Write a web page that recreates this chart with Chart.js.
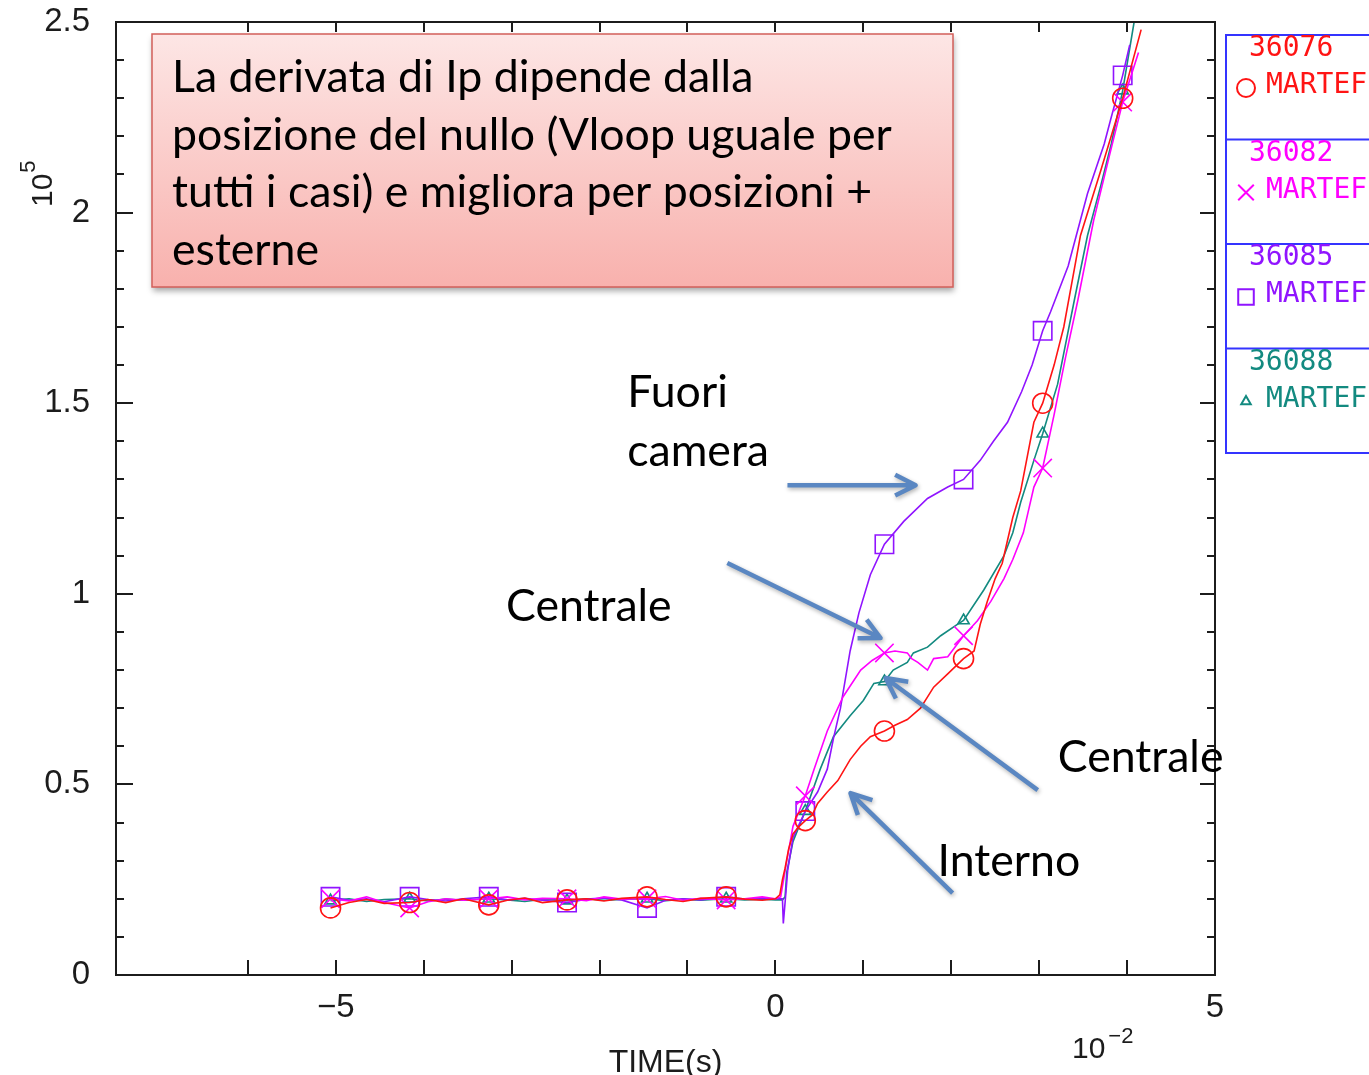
<!DOCTYPE html>
<html lang="it">
<head>
<meta charset="utf-8">
<title>Derivata di Ip – MARTEF</title>
<script src="https://cdn.jsdelivr.net/npm/chart.js@4.4.1/dist/chart.umd.min.js"></script>
<style>
  html, body { margin: 0; padding: 0; background: #ffffff; }
  #wrap { position: relative; width: 1369px; height: 1075px; overflow: hidden; }
</style>
</head>
<body>
<div id="wrap"><canvas id="c" width="1369" height="1075"></canvas></div>
<script>
// Time in units of 1e-2 s, signal in units of 1e5.
const SHOTS = ['36076', '36082', '36085', '36088'];
const CODE_NAME = 'MARTEF';

// Samples carrying a symbol on every trace
const MARKER_T = [-5.06, -4.16, -3.26, -2.37, -1.46, -0.56, 0.34, 1.24, 2.14, 3.04, 3.95];

const T_36076 = [-5.06,-4.85,-4.65,-4.45,-4.16,-3.95,-3.75,-3.55,-3.26,-3.05,-2.85,-2.65,-2.37,-2.15,-1.95,-1.75,-1.46,-1.25,-1.05,-0.85,-0.56,-0.35,-0.15,0.00,
  0.05,0.08,0.11,0.15,0.20,0.27,0.34,0.42,0.48,0.59,0.71,0.85,0.97,1.08,1.24,1.36,1.50,1.65,1.80,1.96,2.14,2.26,2.33,2.41,2.50,2.58,2.70,2.79,2.94,3.04,3.17,3.28,3.47,3.70,3.95,4.16];
const V_36076 = [0.176,0.190,0.198,0.188,0.190,0.198,0.190,0.200,0.184,0.196,0.202,0.190,0.197,0.200,0.194,0.201,0.205,0.198,0.193,0.201,0.205,0.199,0.196,0.200,
  0.210,0.250,0.280,0.330,0.370,0.390,0.405,0.420,0.450,0.480,0.510,0.565,0.600,0.625,0.640,0.655,0.670,0.700,0.755,0.790,0.830,0.850,0.920,0.980,1.040,1.080,1.200,1.270,1.450,1.500,1.600,1.700,1.940,2.110,2.300,2.480];

const T_36082 = [-5.06,-4.85,-4.65,-4.45,-4.16,-3.95,-3.75,-3.55,-3.26,-3.05,-2.85,-2.65,-2.37,-2.15,-1.95,-1.75,-1.46,-1.25,-1.05,-0.85,-0.56,-0.35,-0.15,0.00,
  0.06,0.13,0.20,0.34,0.44,0.59,0.77,0.97,1.10,1.24,1.36,1.50,1.55,1.62,1.73,1.80,1.96,2.14,2.30,2.45,2.60,2.70,2.82,2.94,3.04,3.17,3.30,3.44,3.62,3.80,3.95,4.13];
const V_36082 = [0.200,0.194,0.205,0.190,0.176,0.192,0.200,0.196,0.200,0.205,0.197,0.201,0.200,0.195,0.205,0.199,0.200,0.206,0.196,0.201,0.197,0.200,0.205,0.200,
  0.205,0.300,0.390,0.470,0.540,0.640,0.730,0.800,0.825,0.845,0.850,0.845,0.830,0.820,0.800,0.830,0.835,0.890,0.930,0.980,1.040,1.090,1.160,1.280,1.330,1.470,1.620,1.770,1.980,2.150,2.290,2.420];

const T_36085 = [-5.06,-4.85,-4.65,-4.45,-4.16,-3.95,-3.75,-3.55,-3.26,-3.05,-2.85,-2.65,-2.37,-2.15,-1.95,-1.75,-1.46,-1.25,-1.05,-0.85,-0.56,-0.35,-0.15,0.00,
  0.08,0.09,0.11,0.14,0.20,0.34,0.48,0.59,0.66,0.74,0.85,0.95,1.08,1.24,1.46,1.73,1.96,2.14,2.33,2.48,2.64,2.80,2.92,3.04,3.13,3.33,3.55,3.74,3.82,3.95,4.03];
const V_36085 = [0.205,0.196,0.200,0.192,0.205,0.198,0.194,0.200,0.205,0.197,0.201,0.196,0.190,0.199,0.202,0.197,0.176,0.196,0.200,0.197,0.205,0.199,0.200,0.200,
  0.200,0.135,0.190,0.275,0.360,0.430,0.480,0.540,0.620,0.700,0.850,0.950,1.050,1.130,1.190,1.250,1.280,1.300,1.350,1.400,1.450,1.530,1.600,1.690,1.740,1.860,2.050,2.180,2.250,2.360,2.440];

const T_36088 = [-5.06,-4.85,-4.65,-4.45,-4.16,-3.95,-3.75,-3.55,-3.26,-3.05,-2.85,-2.65,-2.37,-2.15,-1.95,-1.75,-1.46,-1.25,-1.05,-0.85,-0.56,-0.35,-0.15,0.00,
  0.08,0.11,0.13,0.20,0.34,0.51,0.66,0.85,1.00,1.12,1.24,1.34,1.50,1.57,1.73,1.88,2.07,2.14,2.37,2.60,2.70,2.79,2.94,3.04,3.21,3.40,3.55,3.70,3.82,3.95,4.08];
const V_36088 = [0.195,0.200,0.193,0.198,0.200,0.194,0.199,0.196,0.200,0.197,0.193,0.199,0.195,0.200,0.196,0.198,0.200,0.195,0.199,0.196,0.200,0.197,0.199,0.197,
  0.197,0.205,0.270,0.350,0.430,0.540,0.625,0.680,0.720,0.765,0.770,0.800,0.820,0.845,0.860,0.890,0.920,0.930,1.010,1.100,1.160,1.240,1.350,1.420,1.550,1.770,1.940,2.070,2.180,2.320,2.500];

const X_TICK_LABELS = [-5, 0, 5];
const Y_TICK_LABELS = [0, 0.5, 1, 1.5, 2, 2.5];

const NOTE_LINES = [
  'La derivata di Ip dipende dalla',
  'posizione del nullo (Vloop uguale per',
  'tutti i casi) e migliora per posizioni +',
  'esterne'
];

// Callouts: text anchor and arrow (tail -> tip) in axis units
const CALLOUTS = [
  { lines: ['Fuori', 'camera'], at: [-1.686, 1.490], tail: [0.137, 1.285], tip: [1.595, 1.285] },
  { lines: ['Centrale'], at: [-3.064, 0.929], tail: [-0.547, 1.081], tip: [1.196, 0.884] },
  { lines: ['Centrale'], at: [3.212, 0.533], tail: [2.984, 0.485], tip: [1.253, 0.779] },
  { lines: ['Interno'], at: [1.845, 0.260], tail: [2.016, 0.215], tip: [0.854, 0.477] }
];

const COLORS = ['#ff1414', '#ff00ff', '#9014ff', '#138a80'];
const STYLES = ['circle', 'crossRot', 'rect', 'triangle'];
const RADII = [10, 13, 13, 6.5];

const INK = '#1c1c1c';
const AXIS_FONT = '"Liberation Sans", "DejaVu Sans", Arial, sans-serif';
const LEGEND_FONT = '"DejaVu Sans Mono", "Liberation Mono", monospace';
const NOTE_FAMILY = 'Lato, "Open Sans", "Noto Sans", sans-serif';

const isMarker = x => MARKER_T.some(t => Math.abs(t - x) < 1e-6);
const pairs = (ts, vs) => ts.map((t, i) => ({ x: t, y: vs[i] }));

const SERIES = [
  pairs(T_36076, V_36076),
  pairs(T_36082, V_36082),
  pairs(T_36085, V_36085),
  pairs(T_36088, V_36088)
];

const datasets = SERIES.map((pts, i) => ({
  label: SHOTS[i],
  data: pts,
  borderColor: COLORS[i],
  backgroundColor: 'rgba(0,0,0,0)',
  borderWidth: 1.6,
  pointStyle: STYLES[i],
  pointBorderColor: COLORS[i],
  pointBackgroundColor: 'rgba(0,0,0,0)',
  pointBorderWidth: 1.6,
  pointRadius: ctx => (ctx.raw && isMarker(ctx.raw.x)) ? RADII[i] : 0,
  pointHoverRadius: 0,
  tension: 0,
  fill: false
}));

// Inward ticks on all four sides plus frame
function drawFrame(chart, ctx) {
  const { left, right, top, bottom } = chart.chartArea;
  const xs = chart.scales.x, ys = chart.scales.y;
  ctx.save();
  ctx.strokeStyle = INK;
  ctx.lineWidth = 2;
  ctx.strokeRect(left, top, right - left, bottom - top);
  ctx.beginPath();
  xs.ticks.forEach(t => {
    if (Math.abs(t.value - Math.round(t.value)) > 1e-6) return;
    const px = Math.round(xs.getPixelForValue(t.value));
    ctx.moveTo(px, bottom); ctx.lineTo(px, bottom - 15);
    ctx.moveTo(px, top); ctx.lineTo(px, top + 10);
  });
  ys.ticks.forEach(t => {
    const major = Y_TICK_LABELS.some(v => Math.abs(v - t.value) < 1e-6);
    const py = Math.round(ys.getPixelForValue(t.value));
    ctx.moveTo(left, py); ctx.lineTo(left + (major ? 17 : 8), py);
    ctx.moveTo(right, py); ctx.lineTo(right - (major ? 15 : 8), py);
  });
  ctx.stroke();
  ctx.restore();
}

function drawAxisTitles(chart, ctx) {
  const { left, right, bottom } = chart.chartArea;
  ctx.save();
  ctx.fillStyle = INK;
  ctx.textBaseline = 'alphabetic';
  ctx.textAlign = 'left';
  // y: 10^5, rotated
  ctx.save();
  ctx.translate(left - 64, 207);
  ctx.rotate(-Math.PI / 2);
  ctx.font = '30px ' + AXIS_FONT;
  ctx.fillText('10', 0, 0);
  const w10 = ctx.measureText('10').width;
  ctx.font = '22px ' + AXIS_FONT;
  ctx.fillText('5', w10 + 1, -17);
  ctx.restore();
  // x: 10^-2
  ctx.font = '30px ' + AXIS_FONT;
  const ex = right - 143;
  ctx.fillText('10', ex, bottom + 83);
  const w = ctx.measureText('10').width;
  ctx.font = '22px ' + AXIS_FONT;
  ctx.fillText('\u22122', ex + w + 3, bottom + 68);
  // x title
  ctx.font = '32px ' + AXIS_FONT;
  ctx.textAlign = 'center';
  ctx.fillText('TIME(s)', (left + right) / 2, bottom + 97);
  ctx.restore();
}

function drawLegend(chart, ctx) {
  const x0 = chart.chartArea.right + 11;
  const y0 = 35, h = 104.5;
  ctx.save();
  ctx.strokeStyle = '#3434ff';
  ctx.lineWidth = 2;
  ctx.strokeRect(x0, y0, 300, h * 4);
  ctx.beginPath();
  for (let i = 1; i < 4; i++) {
    ctx.moveTo(x0, y0 + h * i); ctx.lineTo(x0 + 300, y0 + h * i);
  }
  ctx.stroke();
  chart.data.datasets.forEach((ds, i) => {
    const yt = y0 + h * i;
    ctx.fillStyle = ds.borderColor;
    ctx.font = '28px ' + LEGEND_FONT;
    ctx.textBaseline = 'middle';
    ctx.textAlign = 'left';
    ctx.fillText(ds.label, x0 + 23, yt + 14);
    ctx.fillText(CODE_NAME, x0 + 40, yt + 51);
    ctx.strokeStyle = ds.borderColor;
    ctx.fillStyle = 'rgba(0,0,0,0)';
    const r = [9, 11, 11, 5.5][i];
    Chart.helpers.drawPoint(ctx, { pointStyle: ds.pointStyle, radius: r, rotation: 0, borderWidth: 1.6 }, x0 + 20, yt + 53);
  });
  ctx.restore();
}

function noteFontSize(ctx) {
  ctx.font = '40px ' + NOTE_FAMILY;
  return 40 * 720 / ctx.measureText(NOTE_LINES[1]).width;
}

function drawNote(chart, ctx) {
  const x = chart.chartArea.left + 36, y = chart.chartArea.top + 12, w = 801, h = 253;
  ctx.save();
  ctx.shadowColor = 'rgba(0,0,0,0.35)';
  ctx.shadowBlur = 6;
  ctx.shadowOffsetX = 1;
  ctx.shadowOffsetY = 4;
  const g = ctx.createLinearGradient(0, y, 0, y + h);
  g.addColorStop(0, '#fde6e5');
  g.addColorStop(1, '#f8b1ad');
  ctx.fillStyle = g;
  ctx.fillRect(x, y, w, h);
  ctx.restore();
  ctx.save();
  ctx.strokeStyle = '#d25f5a';
  ctx.lineWidth = 1.5;
  ctx.strokeRect(x, y, w, h);
  const fs = noteFontSize(ctx);
  ctx.font = fs.toFixed(2) + 'px ' + NOTE_FAMILY;
  ctx.fillStyle = '#000000';
  ctx.textBaseline = 'alphabetic';
  ctx.textAlign = 'left';
  NOTE_LINES.forEach((line, i) => ctx.fillText(line, x + 20, y + 58 + i * 57.5));
  ctx.restore();
}

function arrow(ctx, x1, y1, x2, y2) {
  const a = Math.atan2(y2 - y1, x2 - x1);
  const L = 23, spread = 0.47;
  ctx.beginPath();
  ctx.moveTo(x1, y1);
  ctx.lineTo(x2, y2);
  ctx.moveTo(x2 - L * Math.cos(a - spread), y2 - L * Math.sin(a - spread));
  ctx.lineTo(x2, y2);
  ctx.lineTo(x2 - L * Math.cos(a + spread), y2 - L * Math.sin(a + spread));
  ctx.stroke();
}

function drawCallouts(chart, ctx) {
  const xs = chart.scales.x, ys = chart.scales.y;
  const fs = noteFontSize(ctx);
  ctx.save();
  ctx.font = fs.toFixed(2) + 'px ' + NOTE_FAMILY;
  ctx.textBaseline = 'alphabetic';
  ctx.textAlign = 'left';
  ctx.fillStyle = '#000000';
  CALLOUTS.forEach(c => {
    const tx = xs.getPixelForValue(c.at[0]), ty = ys.getPixelForValue(c.at[1]);
    c.lines.forEach((s, i) => ctx.fillText(s, tx, ty + i * 59));
  });
  ctx.strokeStyle = '#5a87c2';
  ctx.lineWidth = 4.5;
  ctx.lineCap = 'butt';
  ctx.lineJoin = 'round';
  ctx.shadowColor = 'rgba(0,0,0,0.3)';
  ctx.shadowBlur = 4;
  ctx.shadowOffsetX = 1;
  ctx.shadowOffsetY = 2;
  CALLOUTS.forEach(c => {
    arrow(ctx,
      xs.getPixelForValue(c.tail[0]), ys.getPixelForValue(c.tail[1]),
      xs.getPixelForValue(c.tip[0]), ys.getPixelForValue(c.tip[1]));
  });
  ctx.restore();
}

const decorations = {
  id: 'decorations',
  afterDatasetsDraw(chart) {
    const ctx = chart.ctx;
    drawFrame(chart, ctx);
    drawAxisTitles(chart, ctx);
    drawLegend(chart, ctx);
    drawNote(chart, ctx);
    drawCallouts(chart, ctx);
  }
};

const fmtMinus = v => (v < 0 ? '\u2212' + Math.abs(v) : String(v));
const noPad = s => { s.paddingTop = 0; s.paddingBottom = 0; s.paddingLeft = 0; s.paddingRight = 0; };

new Chart(document.getElementById('c'), {
  type: 'line',
  data: { datasets },
  options: {
    responsive: false,
    animation: false,
    events: [],
    layout: { padding: { top: 22, right: 154, left: 0, bottom: 0 } },
    plugins: { legend: { display: false }, tooltip: { enabled: false }, title: { display: false } },
    scales: {
      x: {
        type: 'linear',
        min: -7.5, max: 5,
        grid: { display: false, drawTicks: false },
        border: { display: false },
        ticks: {
          stepSize: 1,
          autoSkip: false,
          maxRotation: 0,
          padding: 13,
          color: INK,
          font: { family: AXIS_FONT, size: 33 },
          callback: v => X_TICK_LABELS.some(l => Math.abs(l - v) < 1e-6) ? fmtMinus(Math.round(v)) : ''
        },
        afterFit: s => { s.height = 100; noPad(s); }
      },
      y: {
        type: 'linear',
        min: 0, max: 2.5,
        grid: { display: false, drawTicks: false },
        border: { display: false },
        ticks: {
          stepSize: 0.1,
          autoSkip: false,
          padding: 26,
          color: INK,
          font: { family: AXIS_FONT, size: 33 },
          callback: v => Y_TICK_LABELS.some(l => Math.abs(l - v) < 1e-6) ? String(Number(v.toFixed(1))) : ''
        },
        afterFit: s => { s.width = 116; noPad(s); }
      }
    }
  },
  plugins: [decorations]
});
</script>
</body>
</html>
